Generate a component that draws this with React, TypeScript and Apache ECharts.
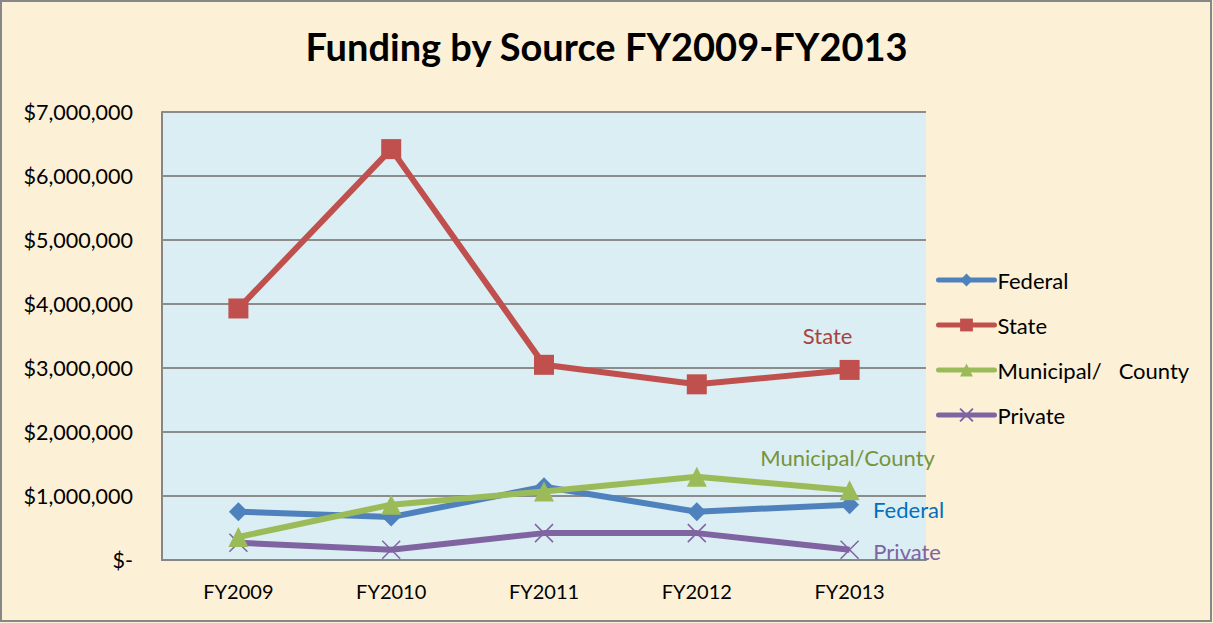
import React, { useEffect, useRef } from "react";
import * as echarts from "echarts";

const categories = ["FY2009", "FY2010", "FY2011", "FY2012", "FY2013"];
const federal = [755000, 670000, 1145000, 755000, 865000];
const state = [3930000, 6420000, 3050000, 2745000, 2970000];
const municipal = [360000, 865000, 1070000, 1300000, 1090000];
const privateFunds = [270000, 160000, 420000, 420000, 160000];
const seriesNames = ["Federal", "State", "Municipal/   County", "Private"];
const endLabels = ["Federal", "State", "Municipal/County", "Private"];
const yTicks = [0, 1000000, 2000000, 3000000, 4000000, 5000000, 6000000, 7000000];

const FONT = "Lato, 'Noto Sans', sans-serif";

function withEndLabel(values: number[], text: string, color: string, position: string, offset: number[]) {
  return values.map((v, i) =>
    i === values.length - 1
      ? {
          value: v,
          label: {
            show: true,
            formatter: text,
            position,
            offset,
            color,
            fontSize: 22,
            fontFamily: FONT,
          },
        }
      : v
  );
}

export default function App() {
  const ref = useRef<HTMLDivElement>(null);
  useEffect(() => {
    if (!ref.current) return;
    const chart = echarts.init(ref.current, undefined, { renderer: "svg" });
    const fmt = (v: number) => (v === 0 ? "$-" : "$" + v.toLocaleString("en-US"));
    chart.setOption({
      animation: false,
      backgroundColor: "#FCF0D7",
      title: {
        text: "Funding by Source FY2009-FY2013",
        left: "center",
        top: 22,
        textStyle: { fontFamily: FONT, fontWeight: "bold", fontSize: 38, color: "#000" },
      },
      graphic: [
        {
          type: "rect",
          shape: { x: 1, y: 1, width: 1210, height: 620 },
          style: { fill: "none", stroke: "#878787", lineWidth: 2 },
          silent: true,
        },
      ],
      legend: {
        orient: "vertical",
        left: 931,
        top: 264,
        itemGap: 23,
        itemWidth: 56,
        itemHeight: 16,
        lineStyle: { width: 5, cap: "round" },
        textStyle: { fontFamily: FONT, fontSize: 22, color: "#000", padding: [0, 0, 0, -2] },
        data: seriesNames,
      },
      grid: {
        left: 162,
        right: 287,
        top: 112,
        bottom: 63,
        show: true,
        backgroundColor: "#DAEEF3",
        borderWidth: 0,
      },
      xAxis: {
        type: "category",
        data: categories,
        axisLine: { lineStyle: { color: "#868686", width: 2 } },
        axisTick: { show: false },
        axisLabel: { fontFamily: FONT, fontSize: 20, color: "#000", margin: 21 },
      },
      yAxis: {
        type: "value",
        min: 0,
        max: 7000000,
        interval: 1000000,
        axisLine: { show: true, lineStyle: { color: "#868686", width: 2 } },
        axisTick: { show: false },
        splitLine: { lineStyle: { color: "#8C8C8C", width: 2 } },
        axisLabel: {
          fontFamily: FONT,
          fontSize: 21.5,
          color: "#000",
          margin: 29,
          formatter: (v: number) => (yTicks.includes(v) ? fmt(v) : ""),
        },
      },
      series: [
        {
          name: seriesNames[0],
          type: "line",
          data: withEndLabel(federal, endLabels[0], "#0070C0", "right", [9, 5]),
          symbol: "diamond",
          symbolSize: 19,
          lineStyle: { color: "#4F81BD", width: 6 },
          itemStyle: { color: "#4F81BD" },
          z: 3,
        },
        {
          name: seriesNames[1],
          type: "line",
          data: withEndLabel(state, endLabels[1], "#A8423F", "top", [-22, -8]),
          symbol: "rect",
          symbolSize: 20,
          lineStyle: { color: "#C0504D", width: 6 },
          itemStyle: { color: "#C0504D" },
          z: 4,
        },
        {
          name: seriesNames[2],
          type: "line",
          data: withEndLabel(municipal, endLabels[2], "#77933C", "top", [-2, -7]),
          symbol: "triangle",
          symbolSize: 20,
          lineStyle: { color: "#9BBB59", width: 6 },
          itemStyle: { color: "#9BBB59" },
          z: 4,
        },
        {
          name: seriesNames[3],
          type: "line",
          data: withEndLabel(privateFunds, endLabels[3], "#8064A2", "right", [9, 2]),
          symbol: "path://M0,0L10,10M10,0L0,10",
          symbolSize: 18,
          lineStyle: { color: "#8064A2", width: 6 },
          itemStyle: { color: "#8064A2", borderColor: "#8064A2", borderWidth: 1.5 },
          z: 2,
        },
      ],
    });
    return () => chart.dispose();
  }, []);
  return (
    <div
      ref={ref}
      style={{ position: "fixed", left: 0, top: 0, width: 1213, height: 623 }}
    />
  );
}
